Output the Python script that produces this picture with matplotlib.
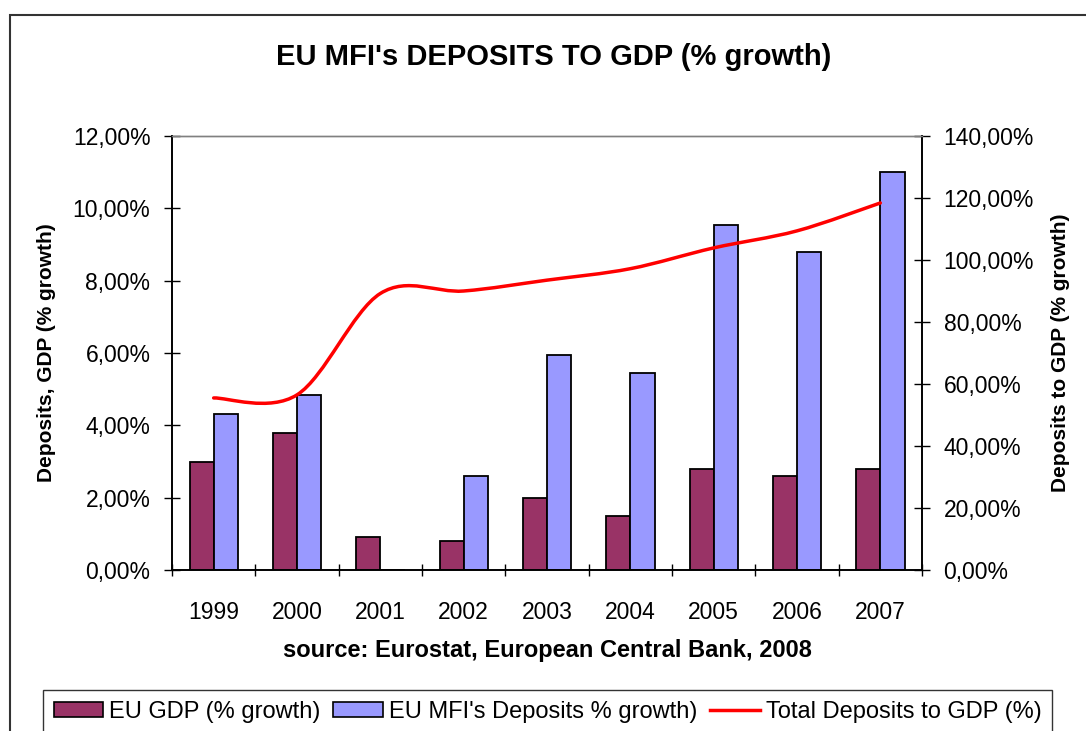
import matplotlib
matplotlib.use("Agg")
import matplotlib.pyplot as plt
import matplotlib.patches as mpatches
from matplotlib.lines import Line2D
from matplotlib.path import Path
import numpy as np

plt.rcParams['font.family'] = ['Liberation Sans', 'DejaVu Sans']

years = ['1999', '2000', '2001', '2002', '2003', '2004', '2005', '2006', '2007']
gdp_growth = [3.0, 3.8, 0.9, 0.8, 2.0, 1.5, 2.8, 2.6, 2.8]
deposit_growth = [4.3, 4.85, 0.0, 2.6, 5.95, 5.45, 9.55, 8.8, 11.0]
deposits_to_gdp = [55.5, 56.5, 89.2, 90.0, 93.5, 97.2, 103.9, 109.4, 118.4]

labels = ['EU GDP (% growth)', "EU MFI's Deposits % growth)", 'Total Deposits to GDP (%)']
C_GDP = '#993366'
C_DEP = '#9999FF'
C_LINE = '#FF0000'

W, H = 1086, 731


def smooth_path(xs, ys):
    """Bezier path through the points, spreadsheet style smoothing."""
    pts = np.column_stack([xs, ys]).astype(float)
    n = len(pts)
    verts = [pts[0]]
    codes = [Path.MOVETO]
    for i in range(n - 1):
        p_prev = pts[i - 1] if i > 0 else pts[i]
        p_next2 = pts[i + 2] if i + 2 < n else pts[i + 1]
        c1 = pts[i] + (pts[i + 1] - p_prev) / 6.0
        c2 = pts[i + 1] - (p_next2 - pts[i]) / 6.0
        verts += [c1, c2, pts[i + 1]]
        codes += [Path.CURVE4] * 3
    return Path(verts, codes)


def pct_fmt(v):
    return f"{v:.2f}%".replace('.', ',')


fig = plt.figure(figsize=(W / 100, H / 100), dpi=100)
fig.patch.set_facecolor('white')

# chart frame (only top and left edges fall inside the canvas)
frame = mpatches.Rectangle((10 / W, -0.1), 1.2, 1 - 15 / H + 0.1,
                           transform=fig.transFigure, fill=False,
                           edgecolor='#333333', linewidth=1.5)
fig.add_artist(frame)

ax = fig.add_axes([172 / W, 1 - 570 / H, (922 - 172) / W, (570 - 136) / H])
ax2 = ax.twinx()

x = np.arange(len(years))
bw = 0.29
ax.bar(x - bw / 2, gdp_growth, bw, color=C_GDP, edgecolor='black', linewidth=1.3, zorder=2)
ax.bar(x + bw / 2, deposit_growth, bw, color=C_DEP, edgecolor='black', linewidth=1.3, zorder=2)

ax.set_xlim(-0.5, len(years) - 0.5)
ax.set_ylim(0, 12)
ax.set_yticks(np.arange(0, 13, 2))
ax.set_yticklabels([pct_fmt(v) for v in np.arange(0, 13, 2)])
ax.set_xticks(x)
ax.set_xticklabels(years)
ax.set_xticks(np.arange(-0.5, len(years), 1), minor=True)
ax.tick_params(axis='x', which='major', length=0, pad=22, labelsize=16.5)
ax.tick_params(axis='x', which='minor', direction='inout', length=9, width=1)
ax.tick_params(axis='y', direction='inout', length=11, width=1, pad=10, labelsize=16.5)

ax2.set_ylim(0, 140)
ax2.set_yticks(np.arange(0, 141, 20))
ax2.set_yticklabels([pct_fmt(v) for v in np.arange(0, 141, 20)])
ax2.tick_params(axis='y', direction='inout', length=11, width=1, pad=10, labelsize=16.5)

path = smooth_path(x, deposits_to_gdp)
ax2.add_patch(mpatches.PathPatch(path, facecolor='none', edgecolor=C_LINE,
                                 linewidth=2.5, capstyle='round', zorder=3))

for a in (ax, ax2):
    a.spines['top'].set_color('#808080')
    a.spines['top'].set_linewidth(1.0)
    for s in ('left', 'right', 'bottom'):
        a.spines[s].set_color('black')
        a.spines[s].set_linewidth(1.2)

ax.set_ylabel('Deposits, GDP (% growth)', fontsize=15, fontweight='bold', labelpad=12)
ax2.set_ylabel('Deposits to GDP (% growth)', fontsize=15, fontweight='bold', labelpad=12)
ax.set_xlabel('source: Eurostat, European Central Bank, 2008', fontsize=17,
              fontweight='bold', labelpad=11)

fig.text(554 / W, 1 - 57 / H, "EU MFI's DEPOSITS TO GDP (% growth)", ha='center',
         va='center', fontsize=21, fontweight='bold')

handles = [
    mpatches.Patch(facecolor=C_GDP, edgecolor='black', linewidth=1.2),
    mpatches.Patch(facecolor=C_DEP, edgecolor='black', linewidth=1.2),
    Line2D([0], [0], color=C_LINE, linewidth=2.5),
]
leg = fig.legend(handles, labels, loc='upper left', bbox_to_anchor=(43 / W, 1 - 690 / H),
                 ncol=3, fontsize=17, frameon=True, fancybox=False, shadow=False,
                 handlelength=2.1, handleheight=0.6, handletextpad=0.25,
                 columnspacing=0.55, borderpad=0.45, borderaxespad=0)
leg.get_frame().set_edgecolor('black')
leg.get_frame().set_linewidth(1.0)

fig.savefig('out.png', dpi=100, facecolor='white')
